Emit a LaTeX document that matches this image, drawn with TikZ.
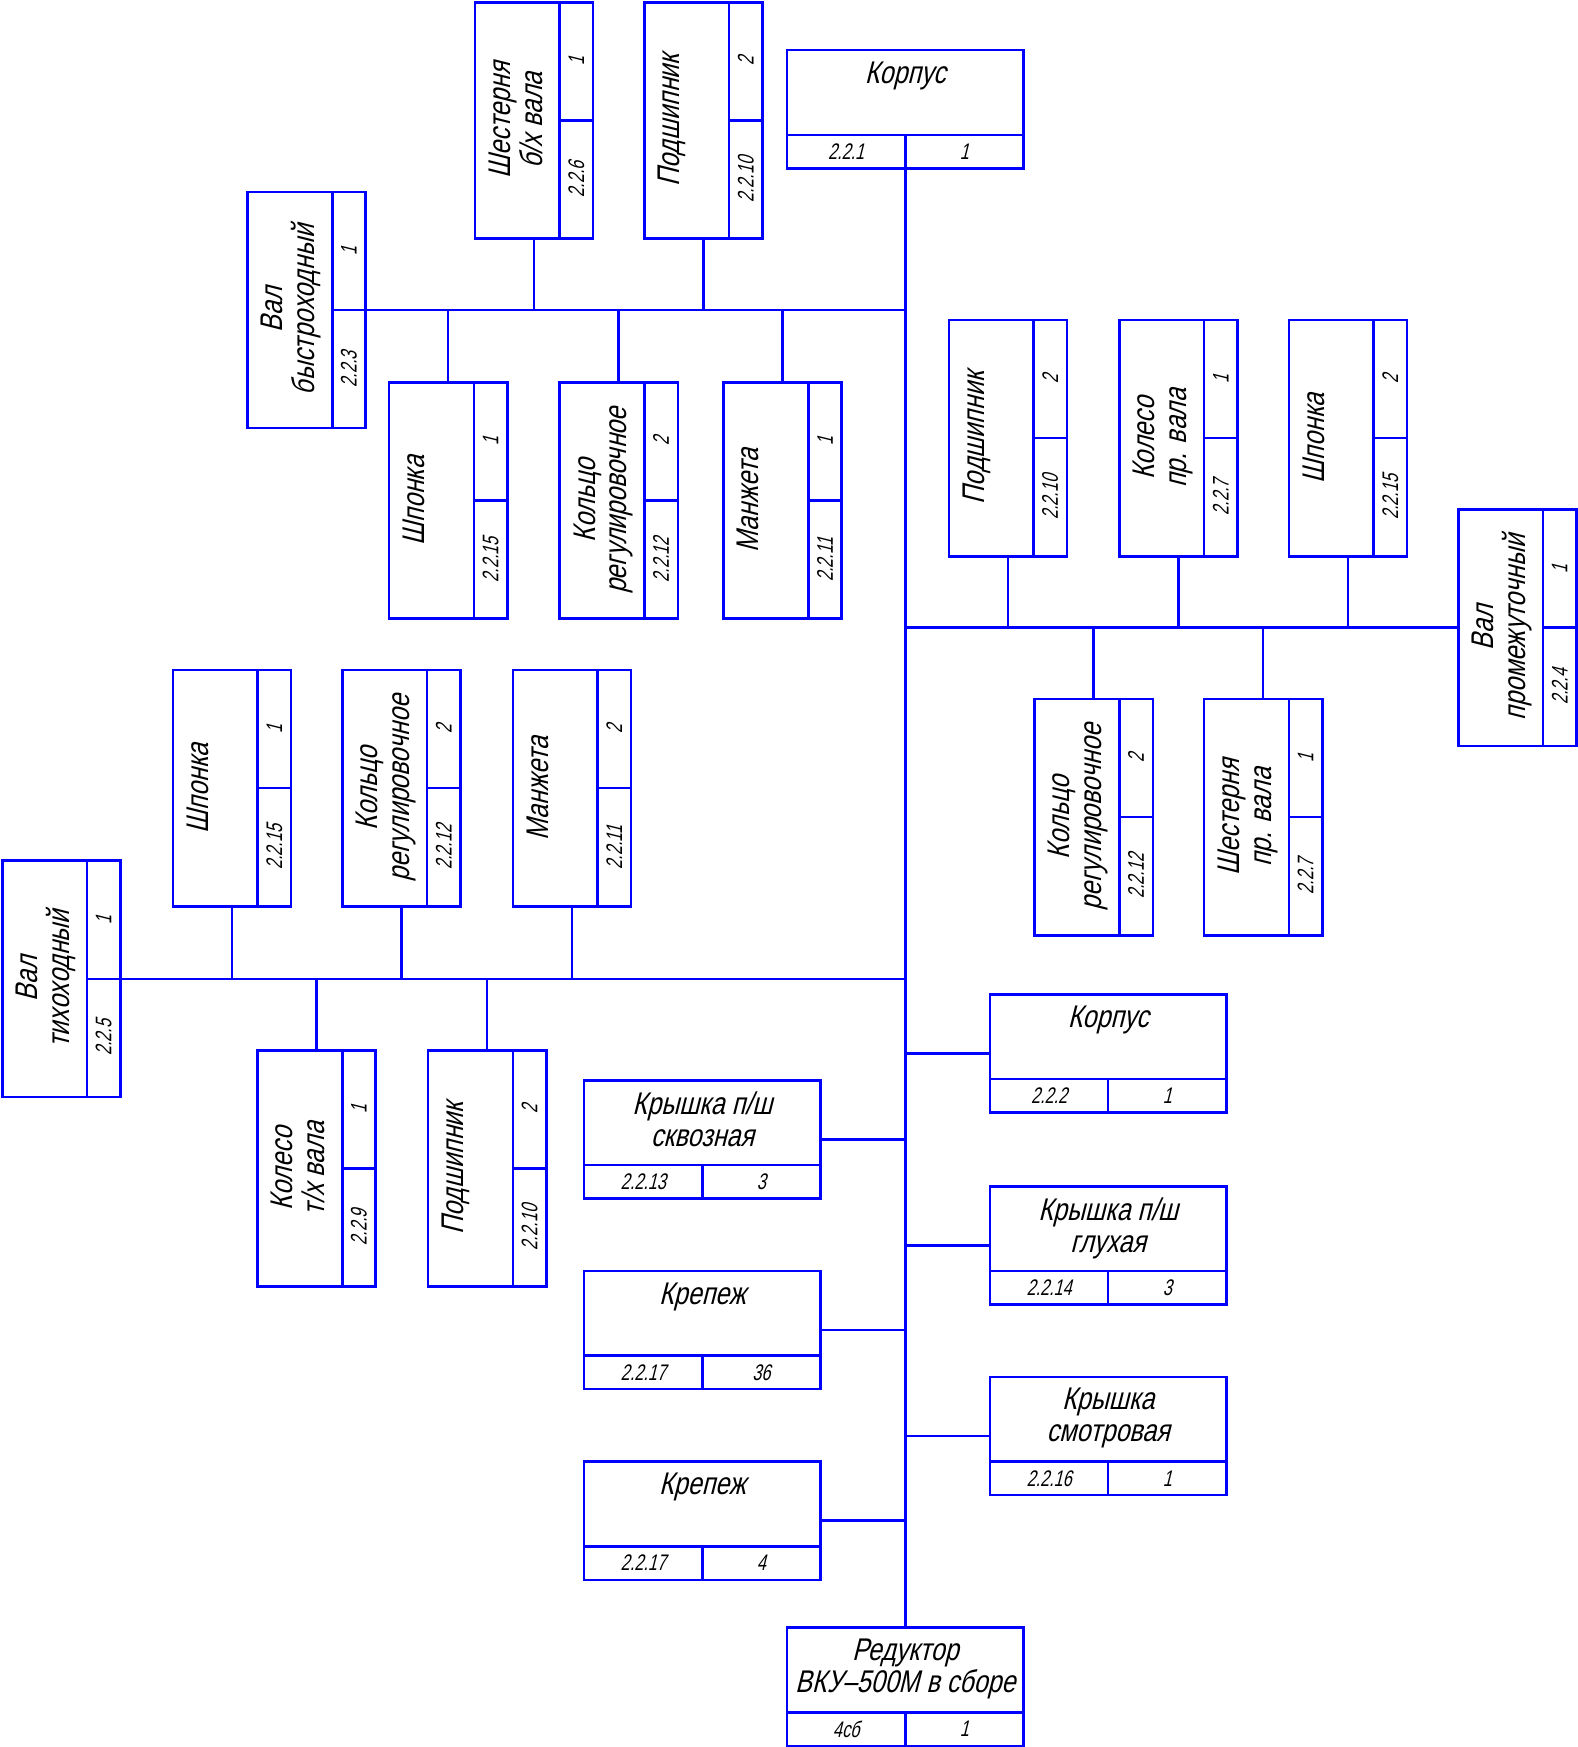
\documentclass[tikz,border=0pt]{standalone}
\usepackage{fontspec}
\setmainfont{Liberation Sans}
\newfontfamily\gost{Liberation Sans}[FakeStretch=0.8,FakeSlant=0.25]
\newfontfamily\gostnum{Liberation Sans}[FakeStretch=0.72,FakeSlant=0.25]
\tikzset{
  blueline/.style={draw=blue, line width=1.3pt},
  vpart/.style={blueline, minimum width=2.12cm, minimum height=4.24cm, inner sep=0pt},
  hpart/.style={blueline, minimum width=4.24cm, minimum height=2.12cm, inner sep=0pt},
  lbl/.style={inner sep=0pt, align=center, font=\gost\fontsize{16}{16.2}\selectfont},
  num/.style={inner sep=0pt, font=\gostnum\fontsize{11.5}{12}\selectfont}
}
% standing part: name, left, top, label, count, designation
\newcommand{\partV}[6]{%
  \begin{scope}[shift={(#2,#3)}]
    \node[vpart] (#1) at (53,106) {};
    \draw[blueline] (76,0) -- (76,212) (76,106) -- (106,106);
    \node[lbl, rotate=90, anchor=north] at (12,106) {#4};
    \node[num, rotate=90] at (91,53) {#5};
    \node[num, rotate=90] at (91,159) {#6};
  \end{scope}}
% lying part: name, left, top, label, designation, count
\newcommand{\partH}[6]{%
  \begin{scope}[shift={(#2,#3)}]
    \node[hpart] (#1) at (106,53) {};
    \draw[blueline] (0,76) -- (212,76) (106,76) -- (106,106);
    \node[lbl, anchor=north] at (106,10) {#4};
    \node[num] at (53,91) {#5};
    \node[num] at (159,91) {#6};
  \end{scope}}

\begin{document}
\begin{tikzpicture}[x=0.02cm, y=-0.02cm]
  \useasboundingbox (0,0) rectangle (1415,1567);

  % fast shaft
  \partV{valB}{222}{172}{Вал\\быстроходный}{1}{2.2.3}
  \partV{shestB}{426}{2}{Шестерня\\б/х вала}{1}{2.2.6}
  \partV{podshB}{578}{2}{Подшипник}{2}{2.2.10}
  \partV{shponB}{349}{343}{Шпонка}{1}{2.2.15}
  \partV{koltsB}{502}{343}{Кольцо\\регулировочное}{2}{2.2.12}
  \partV{manzhB}{649}{343}{Манжета}{1}{2.2.11}

  % intermediate shaft
  \partV{valP}{1308}{457}{Вал\\промежуточный}{1}{2.2.4}
  \partV{podshP}{851}{287}{Подшипник}{2}{2.2.10}
  \partV{kolesP}{1004}{287}{Колесо\\пр. вала}{1}{2.2.7}
  \partV{shponP}{1156}{287}{Шпонка}{2}{2.2.15}
  \partV{koltsP}{928}{627}{Кольцо\\регулировочное}{2}{2.2.12}
  \partV{shestP}{1080}{627}{Шестерня\\пр. вала}{1}{2.2.7}

  % slow shaft
  \partV{valT}{2}{772}{Вал\\тихоходный}{1}{2.2.5}
  \partV{shponT}{155}{601}{Шпонка}{1}{2.2.15}
  \partV{koltsT}{307}{601}{Кольцо\\регулировочное}{2}{2.2.12}
  \partV{manzhT}{460}{601}{Манжета}{2}{2.2.11}
  \partV{kolesT}{231}{942}{Колесо\\т/х вала}{1}{2.2.9}
  \partV{podshT}{384}{942}{Подшипник}{2}{2.2.10}

  % housing, covers, fasteners
  \partH{korp1}{706}{45}{Корпус}{2.2.1}{1}
  \partH{korp2}{888}{892}{Корпус}{2.2.2}{1}
  \partH{kryshG}{888}{1064}{Крышка п/ш\\глухая}{2.2.14}{3}
  \partH{kryshS}{888}{1235}{Крышка\\смотровая}{2.2.16}{1}
  \partH{kryshSkv}{524}{969}{Крышка п/ш\\сквозная}{2.2.13}{3}
  \partH{krep1}{524}{1140}{Крепеж}{2.2.17}{36}
  \partH{krep2}{524}{1311}{Крепеж}{2.2.17}{4}
  \partH{reduktor}{706}{1460}{Редуктор\\ВКУ–500М в сборе}{4сб}{1}

  % trunk and branches
  \coordinate (t1) at (812,278);
  \coordinate (t2) at (812,563);
  \coordinate (t3) at (812,878);
  \draw[blueline] (korp1.south) -- (reduktor.north);

  \draw[blueline] (valB.east) -- (t1);
  \foreach \n in {shestB,podshB} \draw[blueline] (\n.south) -- (\n.south |- t1);
  \foreach \n in {shponB,koltsB,manzhB} \draw[blueline] (\n.north) -- (\n.north |- t1);

  \draw[blueline] (t2) -- (valP.west);
  \foreach \n in {podshP,kolesP,shponP} \draw[blueline] (\n.south) -- (\n.south |- t2);
  \foreach \n in {koltsP,shestP} \draw[blueline] (\n.north) -- (\n.north |- t2);

  \draw[blueline] (valT.east) -- (t3);
  \foreach \n in {shponT,koltsT,manzhT} \draw[blueline] (\n.south) -- (\n.south |- t3);
  \foreach \n in {kolesT,podshT} \draw[blueline] (\n.north) -- (\n.north |- t3);

  \foreach \n in {korp2,kryshG,kryshS} \draw[blueline] (\n.west) -- (\n.west -| t1);
  \foreach \n in {kryshSkv,krep1,krep2} \draw[blueline] (\n.east) -- (\n.east -| t1);
\end{tikzpicture}
\end{document}
